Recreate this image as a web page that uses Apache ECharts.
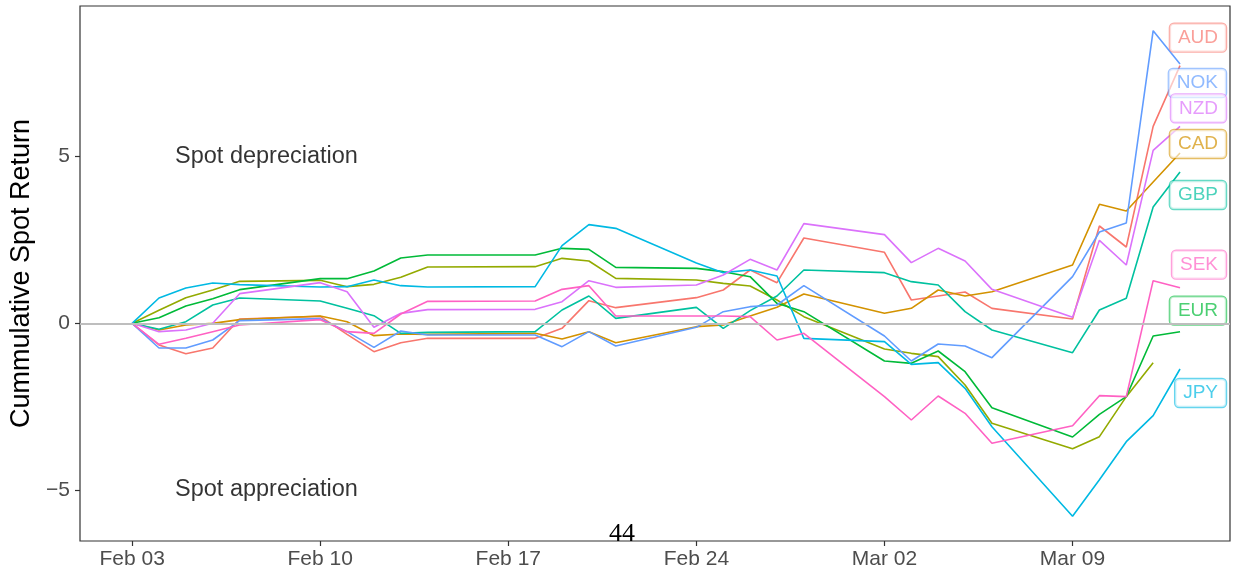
<!DOCTYPE html>
<html>
<head>
<meta charset="utf-8">
<script src="https://cdn.jsdelivr.net/npm/echarts@6/dist/echarts.min.js"></script>
<style>
  html, body { margin: 0; padding: 0; background: #fff; }
  #chart { width: 1236px; height: 573px; }
</style>
</head>
<body>
<div id="chart"></div>
<script>
// business days, 3 Feb - 13 Mar 2020
const dates = ['2020-02-03', '2020-02-04', '2020-02-05', '2020-02-06', '2020-02-07',
  '2020-02-10', '2020-02-11', '2020-02-12', '2020-02-13', '2020-02-14',
  '2020-02-18', '2020-02-19', '2020-02-20', '2020-02-21',
  '2020-02-24', '2020-02-25', '2020-02-26', '2020-02-27', '2020-02-28',
  '2020-03-02', '2020-03-03', '2020-03-04', '2020-03-05', '2020-03-06',
  '2020-03-09', '2020-03-10', '2020-03-11', '2020-03-12', '2020-03-13'];

const AUD = [0, -0.65, -0.91, -0.74, 0.13, 0.21, -0.33, -0.85, -0.58, -0.45, -0.45, -0.15, 0.68, 0.47,
  0.77, 1.0, 1.6, 1.22, 2.56, 2.13, 0.7, 0.82, 0.94, 0.45, 0.13, 2.92, 2.29, 5.91, 7.73];
const CAD = [0, -0.2, -0.05, 0.0, 0.11, 0.22, 0.05, -0.37, -0.32, -0.33, -0.3, -0.47, -0.25, -0.58,
  -0.1, -0.05, 0.22, 0.48, 0.88, 0.3, 0.45, 1.0, 0.82, 0.95, 1.75, 3.57, 3.37, 4.24, 5.11];
const CHF = [0, 0.39, 0.77, 1.0, 1.26, 1.29, 1.1, 1.17, 1.38, 1.69, 1.7, 1.95, 1.87, 1.35,
  1.3, 1.2, 1.12, 0.7, 0.2, -0.77, -0.9, -1.0, -1.85, -3.0, -3.76, -3.4, -2.2, -1.18];
const EUR = [0, 0.17, 0.52, 0.74, 1.01, 1.34, 1.34, 1.57, 1.96, 2.05, 2.05, 2.25, 2.22, 1.68,
  1.65, 1.55, 1.4, 0.6, 0.35, -1.13, -1.2, -0.83, -1.45, -2.53, -3.41, -2.73, -2.2, -0.38, -0.25];
const GBP = [0, -0.18, 0.05, 0.55, 0.76, 0.67, 0.45, 0.23, -0.3, -0.27, -0.25, 0.4, 0.82, 0.15,
  0.48, -0.15, 0.38, 0.82, 1.6, 1.52, 1.25, 1.15, 0.35, -0.2, -0.88, 0.4, 0.75, 3.49, 4.54];
const JPY = [0, 0.76, 1.06, 1.21, 1.16, 1.09, 1.1, 1.3, 1.13, 1.09, 1.1, 2.33, 2.96, 2.85,
  1.81, 1.52, 1.6, 1.42, -0.45, -0.55, -1.23, -1.18, -1.95, -3.1, -5.79, -4.69, -3.55, -2.77, -1.37];
const NOK = [0, -0.74, -0.74, -0.5, 0.08, 0.14, -0.25, -0.72, -0.23, -0.35, -0.35, -0.7, -0.25, -0.68,
  -0.12, 0.35, 0.5, 0.55, 1.13, -0.38, -1.13, -0.62, -0.68, -1.03, 1.4, 2.74, 3.01, 8.78, 7.78];
const NZD = [0, -0.25, -0.2, 0.0, 0.89, 1.22, 0.95, -0.12, 0.3, 0.41, 0.42, 0.65, 1.28, 1.08,
  1.15, 1.45, 1.92, 1.6, 2.99, 2.66, 1.82, 2.25, 1.87, 1.02, 0.18, 2.49, 1.75, 5.19, 5.91];
const SEK = [0, -0.63, -0.45, -0.25, -0.05, 0.11, -0.25, -0.3, 0.28, 0.66, 0.67, 1.02, 1.13, 0.22,
  0.22, 0.22, 0.2, -0.5, -0.3, -2.2, -2.9, -2.18, -2.7, -3.6, -3.07, -2.17, -2.2, 1.28, 1.07];

const currencies = ['AUD', 'CAD', 'CHF', 'EUR', 'GBP', 'JPY', 'NOK', 'NZD', 'SEK'];
const values = { AUD, CAD, CHF, EUR, GBP, JPY, NOK, NZD, SEK };

const xTicks = ['2020-02-03', '2020-02-10', '2020-02-17', '2020-02-24', '2020-03-02', '2020-03-09'];
const yTicks = [-5, 0, 5];

const notes = [
  ['2020-02-08', 5, 'Spot depreciation'],
  ['2020-02-08', -5, 'Spot appreciation']
];

// ggplot hue palette, 9 levels
const colors = {
  AUD: '#F8766D', CAD: '#D39200', CHF: '#93AA00', EUR: '#00BA38', GBP: '#00C19F',
  JPY: '#00B9E3', NOK: '#619CFF', NZD: '#DB72FB', SEK: '#FF61C3'
};
// repelled label boxes: vertical shift from the line end (px)
const labelShift = { AUD: -28, CAD: -9, CHF: null, EUR: -21, GBP: 23, JPY: 24, NOK: 19, NZD: -18, SEK: -23 };

const DAY = 86400000;
const t = s => new Date(s + 'T00:00:00').getTime();
const months = ['Jan', 'Feb', 'Mar', 'Apr', 'May', 'Jun', 'Jul', 'Aug', 'Sep', 'Oct', 'Nov', 'Dec'];

function hexA(hex, a) {
  const n = parseInt(hex.slice(1), 16);
  return 'rgba(' + (n >> 16) + ',' + ((n >> 8) & 255) + ',' + (n & 255) + ',' + a + ')';
}

const series = currencies.map(c => {
  const s = {
    name: c,
    type: 'line',
    z: 3,
    data: values[c].map((v, i) => [t(dates[i]), v]),
    showSymbol: false,
    symbol: 'none',
    lineStyle: { color: colors[c], width: 1.6 },
    itemStyle: { color: colors[c] },
    emphasis: { disabled: true }
  };
  if (labelShift[c] !== null) {
    // boxes pushed against the right edge of the panel
    s.endLabel = {
      show: true,
      formatter: c,
      distance: 0,
      align: 'right',
      offset: [46, labelShift[c]],
      color: hexA(colors[c], 0.7),
      fontSize: 19,
      lineHeight: 19,
      backgroundColor: 'rgba(255,255,255,0.6)',
      borderColor: hexA(colors[c], 0.6),
      borderWidth: 1.2,
      borderRadius: 4,
      padding: [5, 8, 4, 8]
    };
  }
  return s;
});

// zero reference line
series.unshift({
  name: 'zero',
  type: 'line',
  z: 1,
  data: [],
  markLine: {
    silent: true,
    symbol: 'none',
    label: { show: false },
    lineStyle: { color: '#bebebe', width: 2, type: 'solid' },
    data: [{ yAxis: 0 }]
  }
});

series.push({
  name: 'notes',
  type: 'scatter',
  z: 4,
  silent: true,
  symbolSize: 1,
  itemStyle: { color: 'rgba(0,0,0,0)' },
  data: notes.map(n => [t(n[0]), n[1], n[2]]),
  label: {
    show: true,
    position: 'inside',
    formatter: p => p.value[2],
    color: '#000',
    fontSize: 23.5
  }
});

const option = {
  animation: false,
  textStyle: { fontFamily: 'Liberation Sans, Arial, sans-serif' },
  grid: {
    left: 80, right: 6, top: 6, bottom: 32,
    show: true,
    borderColor: '#333333',
    borderWidth: 1.2,
    backgroundColor: 'transparent'
  },
  xAxis: {
    type: 'value',
    min: t('2020-02-03') - 1.94 * DAY,
    max: t('2020-03-13') + 1.86 * DAY,
    axisLine: { show: false, onZero: false },
    axisTick: { show: true, length: 5, lineStyle: { color: '#333333', width: 1.2 }, customValues: xTicks.map(t) },
    axisLabel: {
      customValues: xTicks.map(t),
      color: '#4d4d4d',
      fontSize: 21,
      margin: 8,
      formatter: v => {
        const d = new Date(v);
        return months[d.getMonth()] + ' ' + String(d.getDate()).padStart(2, '0');
      }
    },
    splitLine: { show: false }
  },
  yAxis: {
    type: 'value',
    min: -6.53,
    max: 9.52,
    name: 'Cummulative Spot Return',
    nameLocation: 'middle',
    nameGap: 44,
    nameTextStyle: { color: '#000', fontSize: 27 },
    axisLine: { show: false, onZero: false },
    axisTick: { show: true, length: 5, lineStyle: { color: '#333333', width: 1.2 }, customValues: yTicks },
    axisLabel: {
      customValues: yTicks,
      color: '#4d4d4d',
      fontSize: 21,
      margin: 10,
      formatter: v => (v < 0 ? '\u2212' + Math.abs(v) : String(v))
    },
    splitLine: { show: false }
  },
  graphic: [{
    type: 'text',
    left: 609,
    top: 521,
    z: 10,
    style: { text: '44', font: '26px "Liberation Serif", serif', fill: '#000' }
  }],
  series: series
};

const chart = echarts.init(document.getElementById('chart'));
chart.setOption(option);
</script>
</body>
</html>
